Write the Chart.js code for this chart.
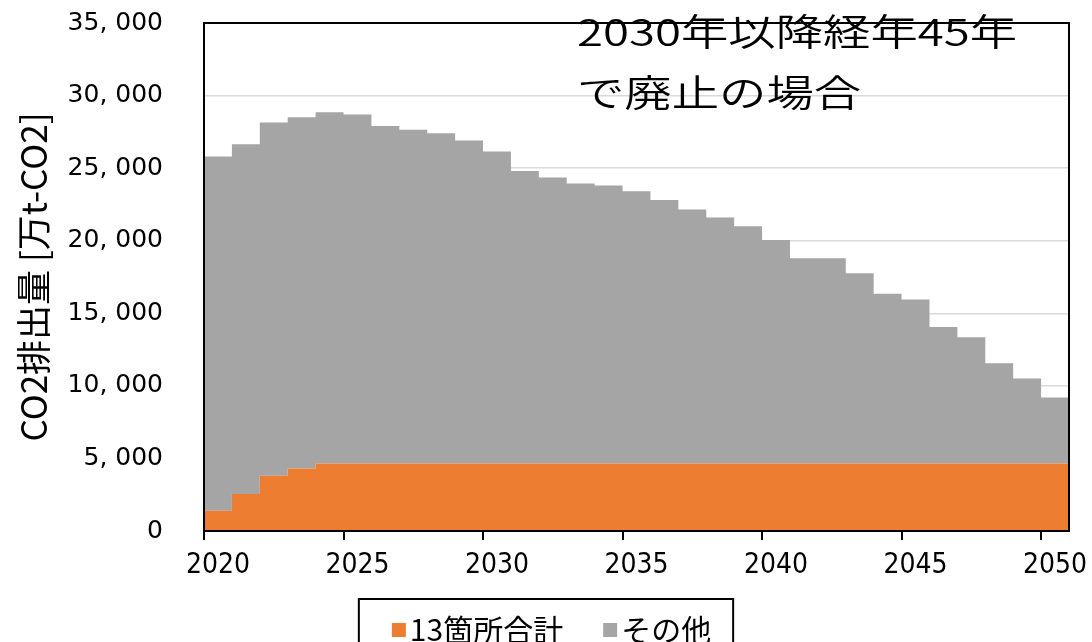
<!DOCTYPE html>
<html lang="ja">
<head>
<meta charset="utf-8">
<title>CO2排出量の推移</title>
<script src="https://cdn.jsdelivr.net/npm/chart.js@4.4.1/dist/chart.umd.min.js"></script>
<style>
  html, body { margin: 0; padding: 0; background: #fff; }
  #wrap { width: 1092px; height: 642px; }
</style>
</head>
<body>
<div id="wrap"><canvas id="co2-chart" width="1092" height="642"></canvas></div>
<script>
// 年次（各年の値は翌年まで一定の階段状で描く）
const years = [
  2020, 2021, 2022, 2023, 2024, 2025, 2026, 2027, 2028, 2029,
  2030, 2031, 2032, 2033, 2034, 2035, 2036, 2037, 2038, 2039,
  2040, 2041, 2042, 2043, 2044, 2045, 2046, 2047, 2048, 2049,
  2050,
];

// 13箇所合計 [万t-CO2]
const plant13 = [
  1400, 2550, 3800, 4300, 4650, 4650, 4650, 4650, 4650, 4650,
  4650, 4650, 4650, 4650, 4650, 4650, 4650, 4650, 4650, 4650,
  4650, 4650, 4650, 4650, 4650, 4650, 4650, 4650, 4650, 4650,
  4650,
];

// その他 [万t-CO2]
const others = [
  24400, 24100, 24350, 24200, 24200, 24050, 23250, 23000, 22750, 22250,
  21500, 20150, 19700, 19300, 19150, 18750, 18150, 17500, 16950, 16350,
  15400, 14150, 14150, 13100, 11700, 11300, 9400, 8700, 6900, 5850,
  4550,
];

// 縦軸
const yMax = 35000;
const yStep = 5000;
// 横軸の目盛り間隔（年）
const xStep = 5;

// 右上の注記
const noteLines = ['2030年以降経年45年', 'で廃止の場合'];

const COLOR_PLANT = '#ED7D31';
const COLOR_OTHER = '#A5A5A5';

// 最終年も1年分の幅を持たせるため、末尾に翌年の点を足す
function stepPoints(values) {
  const pts = years.map((y, i) => ({ x: y, y: values[i] }));
  pts.push({ x: years[years.length - 1] + 1, y: values[values.length - 1] });
  return pts;
}

// プロット枠（上・右も黒線で囲む）
const plotFrame = {
  id: 'plotFrame',
  afterDatasetsDraw(chart) {
    const a = chart.chartArea;
    const ctx = chart.ctx;
    ctx.save();
    ctx.strokeStyle = '#000';
    ctx.lineWidth = 2;
    ctx.strokeRect(a.left, a.top, a.right - a.left, a.bottom - a.top);
    ctx.restore();
  },
};

// グラフ内の注記（横長の字形）
const noteText = {
  id: 'noteText',
  afterDraw(chart) {
    const ctx = chart.ctx;
    ctx.save();
    ctx.fillStyle = '#000';
    ctx.font = '350 37px "Noto Sans CJK JP", sans-serif';
    ctx.textBaseline = 'alphabetic';
    ctx.textAlign = 'left';
    ctx.translate(577, 0);
    ctx.scale(1.28, 1);
    ctx.fillText(noteLines[0], 0, 46);
    ctx.fillText(noteLines[1], 0, 107);
    ctx.restore();
  },
};

// 枠付きの凡例（下端は画面外まで伸びる）
const boxLegend = {
  id: 'boxLegend',
  afterDraw(chart) {
    const ctx = chart.ctx;
    const items = chart.data.datasets.map((ds) => ({ text: ds.label, color: ds.backgroundColor }));
    const box = 14, gap = 4, itemGap = 40;
    const cy = 630;
    ctx.save();
    ctx.font = '30px "Noto Sans CJK JP", sans-serif';
    ctx.textBaseline = 'middle';
    ctx.textAlign = 'left';
    const widths = items.map((it) => ctx.measureText(it.text).width);
    const total = widths.reduce((s, w) => s + box + gap + w, 0) + itemGap * (items.length - 1);
    const padL = 33, padR = 22;
    const frameW = padL + total + padR;
    const frameL = chart.width / 2 - frameW / 2;
    ctx.strokeStyle = '#000';
    ctx.lineWidth = 2;
    ctx.strokeRect(frameL, 599, frameW, 80);
    let x = frameL + padL;
    items.forEach((it, i) => {
      ctx.fillStyle = it.color;
      ctx.fillRect(x, cy - box / 2, box, box);
      x += box + gap;
      ctx.fillStyle = '#000';
      ctx.fillText(it.text, x, cy);
      x += widths[i] + itemGap;
    });
    ctx.restore();
  },
};

new Chart(document.getElementById('co2-chart'), {
  type: 'line',
  data: {
    datasets: [
      {
        label: '13箇所合計',
        data: stepPoints(plant13),
        stepped: true,
        fill: 'origin',
        backgroundColor: COLOR_PLANT,
        borderColor: COLOR_PLANT,
        borderWidth: 0,
        pointRadius: 0,
      },
      {
        label: 'その他',
        data: stepPoints(others),
        stepped: true,
        fill: '-1',
        backgroundColor: COLOR_OTHER,
        borderColor: COLOR_OTHER,
        borderWidth: 0,
        pointRadius: 0,
      },
    ],
  },
  options: {
    responsive: false,
    animation: false,
    layout: { padding: { top: 23, right: 23, left: 0, bottom: 0 } },
    plugins: {
      legend: { display: false },
      tooltip: { enabled: false },
    },
    scales: {
      x: {
        type: 'linear',
        min: years[0],
        max: years[years.length - 1] + 1,
        afterFit: (scale) => { scale.height = 111; },
        grid: { drawOnChartArea: false, drawTicks: true, tickLength: 9, color: '#000', lineWidth: 2 },
        border: { color: '#000', width: 2 },
        ticks: {
          stepSize: xStep,
          includeBounds: false,
          autoSkip: false,
          maxRotation: 0,
          labelOffset: 14,
          padding: 9,
          color: '#000',
          font: { family: '"Liberation Sans Narrow", "DejaVu Sans Condensed", sans-serif', size: 28 },
          callback: (v) => String(v),
        },
      },
      y: {
        stacked: true,
        min: 0,
        max: yMax,
        afterFit: (scale) => { scale.width = 204; },
        // 目盛り線は描かず、ラベルと軸の間隔だけに使う
        grid: { color: '#D9D9D9', lineWidth: 1.5, drawTicks: true, tickLength: 41, tickColor: 'rgba(0,0,0,0)' },
        border: { color: '#000', width: 2 },
        ticks: {
          stepSize: yStep,
          padding: 0,
          color: '#000',
          font: { family: '"DejaVu Sans", sans-serif', size: 25 },
          callback: (v) => v.toLocaleString('en-US').replace(',', ', '),
        },
        title: {
          display: true,
          text: 'CO2排出量 [万t-CO2]',
          color: '#000',
          font: { family: '"Noto Sans CJK JP", sans-serif', size: 35 },
          padding: { top: 13, bottom: 0 },
        },
      },
    },
  },
  plugins: [plotFrame, noteText, boxLegend],
});
</script>
</body>
</html>
